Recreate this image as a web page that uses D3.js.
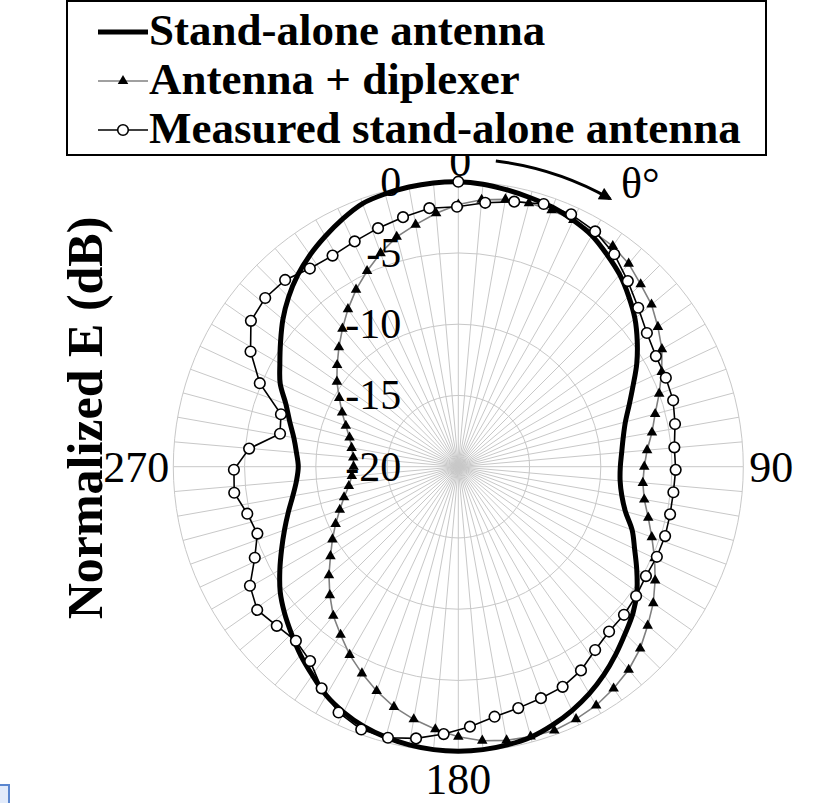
<!DOCTYPE html>
<html>
<head>
<meta charset="utf-8">
<script src="https://cdn.jsdelivr.net/npm/d3@7/dist/d3.min.js"></script>
<style>
  html, body { margin: 0; padding: 0; background: #fff; }
  svg { display: block; }
</style>
</head>
<body>
<svg id="chart" width="827" height="803"></svg>
<script>
// ---- categories (degrees) ----
const simTheta = [0,5,10,15,20,25,30,35,40,45,50,55,60,65,70,75,80,85,90,95,100,105,110,115,
  120,125,130,135,140,145,150,155,160,165,170,175,180,185,190,195,200,205,210,215,220,225,230,235,
  240,245,250,255,260,265,270,275,280,285,290,295,300,305,310,315,320,325,330,335,340,345,350,355];

const measTheta = [0,6,12,18,24,30,36,42,48,54,60,66,72,78,84,90,96,102,108,114,120,126,132,138,
  144,150,156,162,168,174,180,186,192,198,204,210,216,222,228,234,240,246,252,258,264,270,276,282,
  288,294,300,306,312,318,324,330,336,342,348,354,360];

// ---- series values (normalized E, dB) ----
const standAlone = [0,-0.1,-0.28,-0.46,-0.63,-0.91,-1.26,-1.82,-2.39,-3.09,-3.82,-4.67,-5.54,-6.46,
  -7.23,-7.86,-8.25,-8.49,-8.63,-8.6,-8.35,-7.86,-7.02,-6.35,-5.54,-4.7,-4.0,-3.44,-2.81,-2.18,-1.61,
  -1.12,-0.7,-0.35,-0.18,-0.07,-0.04,-0.07,-0.18,-0.35,-0.6,-0.98,-1.47,-2.14,-2.77,-3.44,-4.07,-4.74,
  -5.54,-6.32,-7.02,-7.65,-8.21,-8.6,-8.77,-8.6,-8.28,-7.75,-7.12,-6.21,-5.54,-4.77,-3.93,-3.16,-2.46,
  -1.86,-1.33,-0.81,-0.35,-0.18,-0.07,-0.01];

const withDiplexer = [-1.6,-1.2,-0.95,-0.85,-0.85,-0.9,-1.0,-1.1,-1.4,-1.9,-2.3,-2.9,-3.5,-4.25,-5.0,
  -5.7,-6.2,-6.7,-6.95,-7.0,-6.75,-6.2,-5.55,-4.8,-4.05,-3.3,-2.65,-1.95,-1.4,-1.0,-0.65,-0.45,-0.3,
  -0.4,-0.5,-0.7,-1.05,-1.5,-2.0,-2.55,-3.25,-4.0,-4.75,-5.6,-6.35,-7.25,-8.15,-9.05,-9.8,-10.5,-11.15,
  -11.7,-12.2,-12.5,-12.65,-12.6,-12.4,-12.1,-11.6,-11.0,-10.35,-9.6,-8.9,-8.15,-7.35,-6.5,-5.65,-4.85,
  -4.05,-3.3,-2.75,-2.15];

const measured = [-1.14,-0.76,-0.37,0,0,-0.32,-0.95,-1.84,-2.67,-3.34,-3.72,-3.82,-3.94,-4.28,-4.62,
  -4.65,-4.77,-4.8,-4.79,-4.86,-4.98,-4.85,-4.74,-4.71,-4.38,-3.79,-3.42,-3.3,-3.12,-2.87,-2.35,-1.83,
  -1.33,-0.97,-0.95,-1.41,-2.3,-3.39,-3.8,-3.53,-3.1,-3.54,-4.68,-5.41,-5.04,-4.32,-4.34,-5.29,-7.24,
  -6.92,-4.72,-3.1,-1.92,-1.66,-1.73,-2.18,-2.27,-2.07,-1.78,-1.48,-1.14];

// normalization reference of the measured pattern
const refTheta = [0];
const refValue = [0];

// ---- axis labels ----
const radialTicks = [0, -5, -10, -15, -20];
const gridLevels = [-15, -10, -5, 0];
const angleLabels = ["0", "90", "180", "270"];

const legendNames = ["Stand-alone antenna", "Antenna + diplexer", "Measured stand-alone antenna"];
const axisTitle = "Normalized E (dB)";

// ---- layout ----
const svg = d3.select("#chart");
const serif = "'Liberation Serif','Times New Roman',serif";
const cx = 458.3, cy = 466.7, R = 285;
const measCx = 457, measCy = 475.5;   // measured pattern is a second overlaid plot

const r = d3.scaleLinear().domain([-20, 0]).range([0, R]);
const simAngle = d3.scaleLinear().domain([0, 360]).range([0, 2 * Math.PI]);
const measAngle = d3.scaleLinear().domain([0, measTheta.length]).range([0, 2 * Math.PI]);

const px = (a, rad) => rad * Math.sin(a);
const py = (a, rad) => -rad * Math.cos(a);

// ---- grid ----
const grid = svg.append("g").attr("transform", `translate(${cx},${cy})`);
grid.selectAll("line.spoke").data(simTheta).join("line")
  .attr("class", "spoke")
  .attr("x1", 0).attr("y1", 0)
  .attr("x2", d => px(simAngle(d), R)).attr("y2", d => py(simAngle(d), R))
  .attr("stroke", "#c8c8c8").attr("stroke-width", 1);
grid.selectAll("circle.ring").data(gridLevels).join("circle")
  .attr("class", "ring")
  .attr("r", d => r(d)).attr("fill", "none")
  .attr("stroke", "#c8c8c8").attr("stroke-width", 1);

// ---- series ----
const plot = svg.append("g").attr("transform", `translate(${cx},${cy})`);

const simLine = d3.lineRadial()
  .angle((d, i) => simAngle(simTheta[i]))
  .radius(d => r(d))
  .curve(d3.curveLinearClosed);

plot.append("path").datum(withDiplexer)
  .attr("d", simLine).attr("fill", "none")
  .attr("stroke", "#808080").attr("stroke-width", 1.6);

plot.append("path").datum(standAlone)
  .attr("d", simLine.curve(d3.curveCatmullRomClosed)).attr("fill", "none")
  .attr("stroke", "#000").attr("stroke-width", 5);

const tri = d3.symbol().type(d3.symbolTriangle).size(48);
plot.selectAll("path.tri").data(withDiplexer).join("path")
  .attr("class", "tri")
  .attr("d", tri)
  .attr("transform", (d, i) => {
    const a = simAngle(simTheta[i]);
    return `translate(${px(a, r(d))},${py(a, r(d))})`;
  })
  .attr("fill", "#000");

// measured overlay
const meas = svg.append("g").attr("transform", `translate(${measCx},${measCy})`);
const measLine = d3.lineRadial()
  .angle((d, i) => measAngle(i))
  .radius(d => r(d))
  .curve(d3.curveLinearClosed);
meas.append("path").datum(measured)
  .attr("d", measLine).attr("fill", "none")
  .attr("stroke", "#000").attr("stroke-width", 1.6);
meas.selectAll("circle.m").data(measured).join("circle")
  .attr("class", "m")
  .attr("cx", (d, i) => px(measAngle(i), r(d)))
  .attr("cy", (d, i) => py(measAngle(i), r(d)))
  .attr("r", 5.3).attr("fill", "#fff")
  .attr("stroke", "#000").attr("stroke-width", 1.6);

plot.selectAll("circle.ref").data(refValue).join("circle")
  .attr("class", "ref")
  .attr("cx", (d, i) => px(simAngle(refTheta[i]), r(d)))
  .attr("cy", (d, i) => py(simAngle(refTheta[i]), r(d)))
  .attr("r", 5.3).attr("fill", "#fff")
  .attr("stroke", "#000").attr("stroke-width", 1.6);

// ---- radial tick labels ----
svg.append("g").selectAll("text").data(radialTicks).join("text")
  .attr("x", cx - 57)
  .attr("y", d => cy - r(d) + 14)
  .attr("text-anchor", "end")
  .attr("font-family", serif).attr("font-size", 42)
  .text(d => d);

// ---- angular labels ----
const lab = svg.append("g").attr("font-family", serif).attr("font-size", 44);
const labPos = [
  { x: cx + 2, y: 176, anchor: "middle" },
  { x: cx + R + 6, y: cy + 15, anchor: "start" },
  { x: cx, y: 794, anchor: "middle" },
  { x: cx - R - 4, y: cy + 15, anchor: "end" }
];
lab.selectAll("text").data(angleLabels).join("text")
  .attr("x", (d, i) => labPos[i].x)
  .attr("y", (d, i) => labPos[i].y)
  .attr("text-anchor", (d, i) => labPos[i].anchor)
  .text(d => d);

// ---- rotation arrow and θ° ----
const defs = svg.append("defs");
defs.append("marker").attr("id", "arrowHead")
  .attr("viewBox", "0 0 10 10").attr("refX", 8).attr("refY", 5)
  .attr("markerWidth", 16).attr("markerHeight", 13)
  .attr("markerUnits", "userSpaceOnUse").attr("orient", "auto")
  .append("path").attr("d", "M0,0 L10,5 L0,10 Z").attr("fill", "#000");

const arcPath = d3.path();
const a0 = simAngle(7) - Math.PI / 2, a1 = simAngle(29.5) - Math.PI / 2;
arcPath.arc(cx, cy, 308, a0, a1);
svg.append("path").attr("d", arcPath.toString())
  .attr("fill", "none").attr("stroke", "#000").attr("stroke-width", 3)
  .attr("marker-end", "url(#arrowHead)");

svg.append("text").attr("x", 621).attr("y", 198)
  .attr("font-family", serif).attr("font-size", 44)
  .text("θ°");

// ---- legend ----
const leg = svg.append("g");
leg.append("rect").attr("x", 67).attr("y", 1).attr("width", 699).attr("height", 154)
  .attr("fill", "#fff").attr("stroke", "#000").attr("stroke-width", 2);
const rowY = [45, 94, 143];
leg.selectAll("text").data(legendNames).join("text")
  .attr("x", 149).attr("y", (d, i) => rowY[i])
  .attr("font-family", serif).attr("font-size", 45).attr("font-weight", "bold")
  .text(d => d);
// samples
leg.append("line").attr("x1", 98).attr("x2", 148).attr("y1", 32).attr("y2", 32)
  .attr("stroke", "#000").attr("stroke-width", 5);
leg.append("line").attr("x1", 98).attr("x2", 148).attr("y1", 81).attr("y2", 81)
  .attr("stroke", "#808080").attr("stroke-width", 1.6);
leg.append("path").attr("d", tri).attr("transform", "translate(123,81)").attr("fill", "#000");
leg.append("line").attr("x1", 98).attr("x2", 148).attr("y1", 130).attr("y2", 130)
  .attr("stroke", "#000").attr("stroke-width", 1.6);
leg.append("circle").attr("cx", 123).attr("cy", 130).attr("r", 5.3)
  .attr("fill", "#fff").attr("stroke", "#000").attr("stroke-width", 1.6);

// ---- axis title ----
svg.append("text")
  .attr("transform", "translate(102,418) rotate(-90)")
  .attr("text-anchor", "middle")
  .attr("font-family", serif).attr("font-size", 50).attr("font-weight", "bold")
  .text(axisTitle);

// ---- selection handle at the lower-left corner ----
svg.append("rect").attr("x", -3).attr("y", 785).attr("width", 12).attr("height", 22)
  .attr("fill", "#e2ebfb").attr("stroke", "#5a86cf").attr("stroke-width", 2);
</script>
</body>
</html>
